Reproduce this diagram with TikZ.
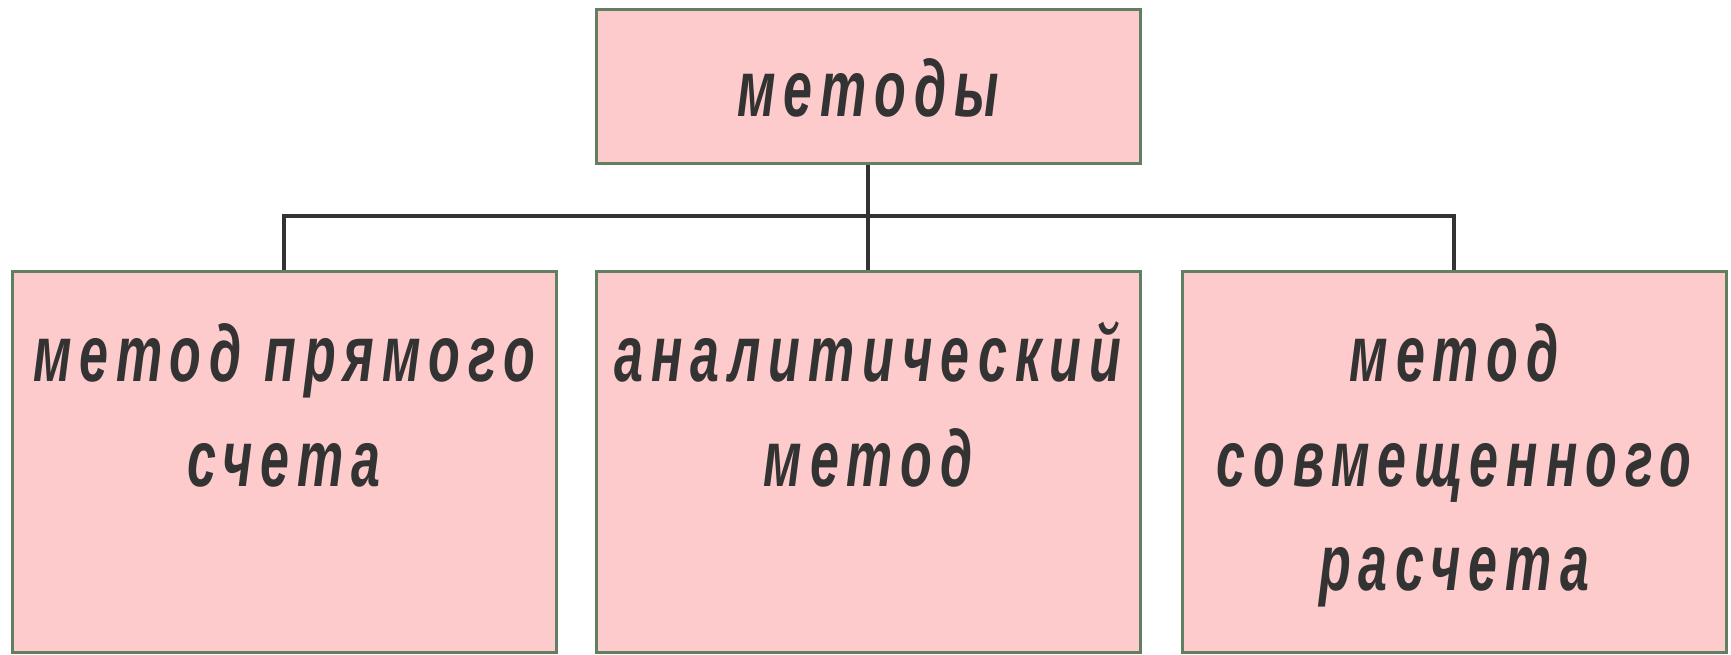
\documentclass[tikz,border=0pt]{standalone}
\usepackage{fontspec}
\newfontfamily\rf[FakeStretch=0.65,LetterSpace=10]{Liberation Sans}
\definecolor{boxfill}{HTML}{FDCBCB}
\definecolor{boxline}{HTML}{608060}
\definecolor{ink}{HTML}{333333}
\begin{document}
\begin{tikzpicture}[x=1pt,y=-1pt,
  box/.style={draw=boxline,fill=boxfill,line width=3pt,minimum width=544pt,inner sep=0pt},
  txt/.style={anchor=base,inner sep=0pt,text=ink,font=\rf\bfseries\itshape\fontsize{80}{96}\selectfont},
  conn/.style={draw=ink,line width=3.5pt}]
\useasboundingbox (0,0) rectangle (1731,654);
\node[box,minimum height=154pt] (top) at (868,86) {};
\node[box,minimum height=381pt] (b1) at (284,461.5) {};
\node[box,minimum height=381pt] (b2) at (868,461.5) {};
\node[box,minimum height=381pt] (b3) at (1454,461.5) {};
\coordinate (jn) at (868,216);
\draw[conn] (top.south) -- (b2.north);
\draw[conn] (b1.north) |- (jn) -| (b3.north);
\node[txt] (t0) at (868,116) {методы};
\node[txt] (t1a) at (284,381) {метод прямого};
\node[txt] (t1b) at (284,486) {счета};
\node[txt] (t2a) at (868,381) {аналитический};
\node[txt] (t2b) at (868,486) {метод};
\node[txt] (t3a) at (1454,381) {метод};
\node[txt] (t3b) at (1454,486) {совмещенного};
\node[txt] (t3c) at (1454,590) {расчета};
\end{tikzpicture}
\end{document}
